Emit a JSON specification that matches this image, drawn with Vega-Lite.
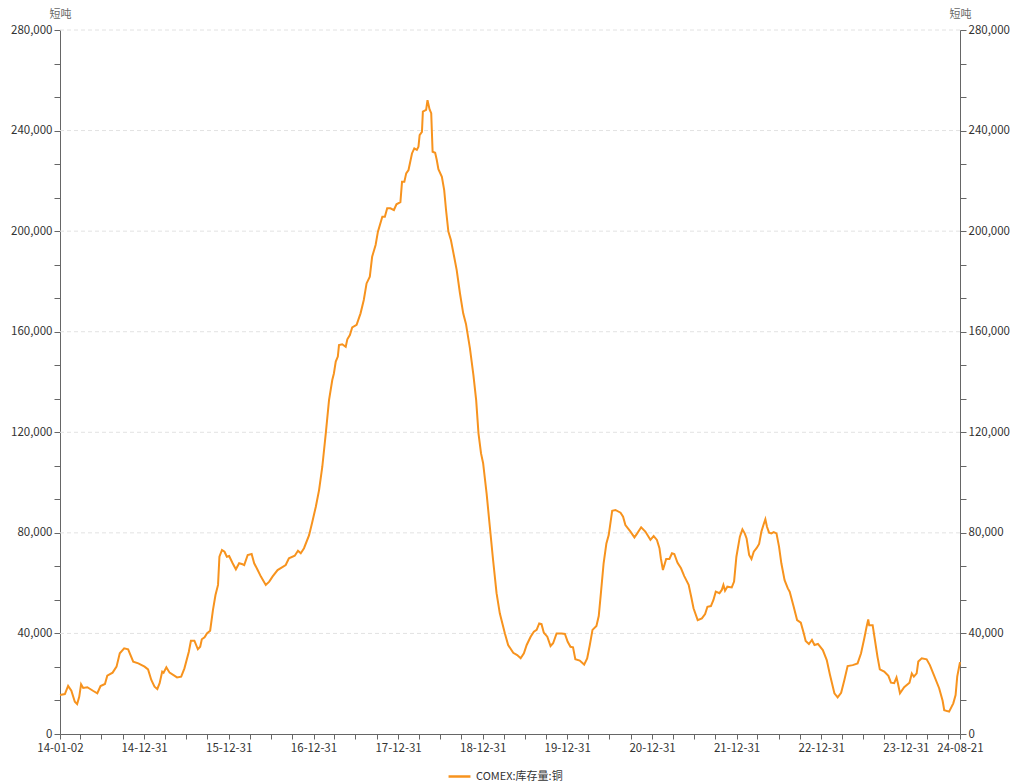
{
  "$schema": "https://vega.github.io/schema/vega-lite/v6.json",
  "width": 900,
  "height": 704,
  "autosize": {"type": "none"},
  "padding": {"left": 60, "top": 30, "right": 55, "bottom": 50},
  "background": "#ffffff",
  "config": {
    "view": {"stroke": null},
    "font": "Noto Sans CJK SC",
    "axis": {
      "labelFont": "Noto Sans CJK SC",
      "labelFontSize": 11.5,
      "labelColor": "#333333",
      "domainColor": "#666666",
      "tickColor": "#666666",
      "titleFont": "Noto Sans CJK SC",
      "titleFontSize": 11,
      "titleFontWeight": "normal",
      "titleColor": "#666666"
    }
  },
  "datasets": {
    "grid": [
      {"v": 40000}, {"v": 80000}, {"v": 120000}, {"v": 160000}, {"v": 200000}, {"v": 240000}, {"v": 280000}
    ],
    "copper": [
      {"d": "2014-01-02", "v": 15500}, {"d": "2014-01-23", "v": 15900}, {"d": "2014-02-06", "v": 19100}, {"d": "2014-02-20", "v": 17200},
      {"d": "2014-03-07", "v": 12800}, {"d": "2014-03-17", "v": 11900}, {"d": "2014-03-26", "v": 14800}, {"d": "2014-04-03", "v": 19800},
      {"d": "2014-04-12", "v": 18300}, {"d": "2014-04-30", "v": 18600}, {"d": "2014-05-26", "v": 17100}, {"d": "2014-06-12", "v": 16200},
      {"d": "2014-06-26", "v": 19100}, {"d": "2014-07-15", "v": 19900}, {"d": "2014-07-25", "v": 23200}, {"d": "2014-08-17", "v": 24400},
      {"d": "2014-09-03", "v": 26800}, {"d": "2014-09-17", "v": 32100}, {"d": "2014-10-06", "v": 34100}, {"d": "2014-10-23", "v": 33700},
      {"d": "2014-11-14", "v": 28800}, {"d": "2014-12-06", "v": 28100}, {"d": "2015-01-02", "v": 26800}, {"d": "2015-01-17", "v": 25700},
      {"d": "2015-01-31", "v": 21500}, {"d": "2015-02-14", "v": 18800}, {"d": "2015-02-26", "v": 17900}, {"d": "2015-03-08", "v": 20200},
      {"d": "2015-03-19", "v": 24800}, {"d": "2015-03-25", "v": 24400}, {"d": "2015-04-06", "v": 26500}, {"d": "2015-04-20", "v": 24400},
      {"d": "2015-05-22", "v": 22500}, {"d": "2015-06-09", "v": 22800}, {"d": "2015-06-23", "v": 26100}, {"d": "2015-07-12", "v": 32700},
      {"d": "2015-07-21", "v": 37100}, {"d": "2015-08-05", "v": 37100}, {"d": "2015-08-20", "v": 33700}, {"d": "2015-08-30", "v": 34700},
      {"d": "2015-09-06", "v": 37700}, {"d": "2015-09-18", "v": 38500}, {"d": "2015-09-28", "v": 40000}, {"d": "2015-10-12", "v": 41100},
      {"d": "2015-10-24", "v": 49300}, {"d": "2015-11-04", "v": 55300}, {"d": "2015-11-15", "v": 59300}, {"d": "2015-11-21", "v": 70500},
      {"d": "2015-12-02", "v": 73200}, {"d": "2015-12-13", "v": 72500}, {"d": "2015-12-23", "v": 70500}, {"d": "2016-01-02", "v": 70800},
      {"d": "2016-01-17", "v": 67900}, {"d": "2016-01-31", "v": 65500}, {"d": "2016-02-14", "v": 67900}, {"d": "2016-02-29", "v": 67500},
      {"d": "2016-03-07", "v": 67200}, {"d": "2016-03-22", "v": 71200}, {"d": "2016-04-08", "v": 71600}, {"d": "2016-04-19", "v": 67900},
      {"d": "2016-05-04", "v": 65200}, {"d": "2016-05-18", "v": 62600}, {"d": "2016-06-08", "v": 59300}, {"d": "2016-06-23", "v": 60600},
      {"d": "2016-07-07", "v": 62600}, {"d": "2016-07-29", "v": 65200}, {"d": "2016-09-02", "v": 67200}, {"d": "2016-09-16", "v": 69900},
      {"d": "2016-10-11", "v": 70900}, {"d": "2016-10-25", "v": 72900}, {"d": "2016-11-06", "v": 71900}, {"d": "2016-11-20", "v": 73900},
      {"d": "2016-12-12", "v": 79100}, {"d": "2016-12-26", "v": 84400}, {"d": "2017-01-10", "v": 90400}, {"d": "2017-01-24", "v": 97000},
      {"d": "2017-02-07", "v": 106300}, {"d": "2017-02-22", "v": 119600}, {"d": "2017-03-08", "v": 132800}, {"d": "2017-03-22", "v": 140800},
      {"d": "2017-03-29", "v": 143400}, {"d": "2017-04-06", "v": 148100}, {"d": "2017-04-15", "v": 150100}, {"d": "2017-04-20", "v": 154700},
      {"d": "2017-05-04", "v": 155000}, {"d": "2017-05-19", "v": 154000}, {"d": "2017-05-26", "v": 157000}, {"d": "2017-06-06", "v": 158700},
      {"d": "2017-06-16", "v": 161700}, {"d": "2017-07-05", "v": 162700}, {"d": "2017-07-22", "v": 167300}, {"d": "2017-08-05", "v": 172600},
      {"d": "2017-08-17", "v": 179200}, {"d": "2017-08-31", "v": 181900}, {"d": "2017-09-10", "v": 189800}, {"d": "2017-09-25", "v": 194500},
      {"d": "2017-10-05", "v": 199800}, {"d": "2017-10-24", "v": 205700}, {"d": "2017-11-04", "v": 205700}, {"d": "2017-11-14", "v": 209100},
      {"d": "2017-11-28", "v": 209100}, {"d": "2017-12-13", "v": 208400}, {"d": "2017-12-24", "v": 210700}, {"d": "2018-01-10", "v": 211500},
      {"d": "2018-01-17", "v": 219600}, {"d": "2018-01-27", "v": 219600}, {"d": "2018-02-04", "v": 223000}, {"d": "2018-02-14", "v": 224300},
      {"d": "2018-03-01", "v": 230900}, {"d": "2018-03-11", "v": 232900}, {"d": "2018-03-22", "v": 232300}, {"d": "2018-03-29", "v": 233600},
      {"d": "2018-04-03", "v": 238200}, {"d": "2018-04-13", "v": 239500}, {"d": "2018-04-17", "v": 247500}, {"d": "2018-05-01", "v": 248200},
      {"d": "2018-05-07", "v": 252100}, {"d": "2018-05-16", "v": 248400}, {"d": "2018-05-23", "v": 246900}, {"d": "2018-05-29", "v": 231600},
      {"d": "2018-06-09", "v": 231200}, {"d": "2018-06-16", "v": 228300}, {"d": "2018-06-23", "v": 224600}, {"d": "2018-07-08", "v": 221600},
      {"d": "2018-07-18", "v": 216300}, {"d": "2018-07-26", "v": 208400}, {"d": "2018-08-05", "v": 199800}, {"d": "2018-08-16", "v": 196500},
      {"d": "2018-08-30", "v": 189800}, {"d": "2018-09-10", "v": 184500}, {"d": "2018-09-24", "v": 175300}, {"d": "2018-10-08", "v": 167300},
      {"d": "2018-10-20", "v": 163100}, {"d": "2018-11-06", "v": 153500}, {"d": "2018-11-21", "v": 142800}, {"d": "2018-12-03", "v": 132800},
      {"d": "2018-12-13", "v": 119600}, {"d": "2018-12-24", "v": 111600}, {"d": "2019-01-02", "v": 107700}, {"d": "2019-01-17", "v": 95700},
      {"d": "2019-01-31", "v": 82400}, {"d": "2019-02-14", "v": 69200}, {"d": "2019-03-01", "v": 56000}, {"d": "2019-03-15", "v": 48000},
      {"d": "2019-04-06", "v": 40000}, {"d": "2019-04-20", "v": 35400}, {"d": "2019-05-12", "v": 32300}, {"d": "2019-05-29", "v": 31400},
      {"d": "2019-06-13", "v": 30100}, {"d": "2019-06-27", "v": 32100}, {"d": "2019-07-09", "v": 35400}, {"d": "2019-07-26", "v": 38700},
      {"d": "2019-08-09", "v": 40700}, {"d": "2019-08-21", "v": 41400}, {"d": "2019-09-01", "v": 44000}, {"d": "2019-09-11", "v": 43700},
      {"d": "2019-09-21", "v": 40300}, {"d": "2019-10-06", "v": 38700}, {"d": "2019-10-20", "v": 35000}, {"d": "2019-10-31", "v": 36100},
      {"d": "2019-11-15", "v": 40000}, {"d": "2019-12-07", "v": 40000}, {"d": "2019-12-21", "v": 39800}, {"d": "2020-01-02", "v": 36700},
      {"d": "2020-01-14", "v": 34700}, {"d": "2020-01-25", "v": 34500}, {"d": "2020-02-04", "v": 29700}, {"d": "2020-02-23", "v": 29200},
      {"d": "2020-03-13", "v": 27600}, {"d": "2020-03-26", "v": 30100}, {"d": "2020-04-06", "v": 35200}, {"d": "2020-04-18", "v": 41400},
      {"d": "2020-05-05", "v": 43000}, {"d": "2020-05-15", "v": 46900}, {"d": "2020-05-25", "v": 56700}, {"d": "2020-06-05", "v": 67900},
      {"d": "2020-06-17", "v": 75800}, {"d": "2020-06-27", "v": 79100}, {"d": "2020-07-12", "v": 88800}, {"d": "2020-07-26", "v": 89100},
      {"d": "2020-08-17", "v": 88000}, {"d": "2020-08-28", "v": 86400}, {"d": "2020-09-07", "v": 83100}, {"d": "2020-09-29", "v": 80500},
      {"d": "2020-10-16", "v": 78200}, {"d": "2020-10-28", "v": 79800}, {"d": "2020-11-14", "v": 82200}, {"d": "2020-12-02", "v": 80500},
      {"d": "2020-12-24", "v": 77200}, {"d": "2021-01-07", "v": 78700}, {"d": "2021-01-21", "v": 77200}, {"d": "2021-02-01", "v": 73900},
      {"d": "2021-02-07", "v": 69900}, {"d": "2021-02-16", "v": 65200}, {"d": "2021-03-02", "v": 69600}, {"d": "2021-03-16", "v": 69600},
      {"d": "2021-03-27", "v": 71900}, {"d": "2021-04-06", "v": 71600}, {"d": "2021-04-20", "v": 68100}, {"d": "2021-05-05", "v": 65900},
      {"d": "2021-05-19", "v": 62800}, {"d": "2021-06-07", "v": 59300}, {"d": "2021-06-18", "v": 54600}, {"d": "2021-06-28", "v": 50000},
      {"d": "2021-07-16", "v": 45300}, {"d": "2021-08-03", "v": 46000}, {"d": "2021-08-17", "v": 47700}, {"d": "2021-08-27", "v": 50600},
      {"d": "2021-09-11", "v": 50900}, {"d": "2021-09-22", "v": 53300}, {"d": "2021-10-02", "v": 56600}, {"d": "2021-10-18", "v": 56000},
      {"d": "2021-10-28", "v": 57300}, {"d": "2021-11-04", "v": 59300}, {"d": "2021-11-11", "v": 57000}, {"d": "2021-11-21", "v": 58600},
      {"d": "2021-12-10", "v": 58300}, {"d": "2021-12-20", "v": 60600}, {"d": "2021-12-30", "v": 70500}, {"d": "2022-01-14", "v": 78500},
      {"d": "2022-01-25", "v": 81400}, {"d": "2022-02-04", "v": 79800}, {"d": "2022-02-12", "v": 77800}, {"d": "2022-02-23", "v": 71200},
      {"d": "2022-03-05", "v": 69600}, {"d": "2022-03-15", "v": 72500}, {"d": "2022-03-27", "v": 73900}, {"d": "2022-04-07", "v": 75600},
      {"d": "2022-04-17", "v": 80500}, {"d": "2022-04-27", "v": 83500}, {"d": "2022-05-04", "v": 85400}, {"d": "2022-05-11", "v": 82400},
      {"d": "2022-05-20", "v": 80100}, {"d": "2022-05-30", "v": 79800}, {"d": "2022-06-09", "v": 80300}, {"d": "2022-06-21", "v": 79800},
      {"d": "2022-07-02", "v": 74500}, {"d": "2022-07-12", "v": 67900}, {"d": "2022-07-26", "v": 61200}, {"d": "2022-08-09", "v": 57900},
      {"d": "2022-08-17", "v": 56600}, {"d": "2022-09-03", "v": 50700}, {"d": "2022-09-18", "v": 45300}, {"d": "2022-10-04", "v": 44300},
      {"d": "2022-10-17", "v": 40000}, {"d": "2022-10-25", "v": 37000}, {"d": "2022-11-08", "v": 35800}, {"d": "2022-11-21", "v": 37400},
      {"d": "2022-12-02", "v": 35400}, {"d": "2022-12-17", "v": 35800}, {"d": "2023-01-07", "v": 33400}, {"d": "2023-01-24", "v": 29400},
      {"d": "2023-02-07", "v": 23500}, {"d": "2023-02-26", "v": 16200}, {"d": "2023-03-12", "v": 14600}, {"d": "2023-03-27", "v": 16400},
      {"d": "2023-04-10", "v": 21500}, {"d": "2023-04-24", "v": 27000}, {"d": "2023-05-16", "v": 27400}, {"d": "2023-06-06", "v": 28100},
      {"d": "2023-06-21", "v": 32100}, {"d": "2023-07-05", "v": 38100}, {"d": "2023-07-15", "v": 42700}, {"d": "2023-07-22", "v": 45600},
      {"d": "2023-07-26", "v": 43300}, {"d": "2023-08-10", "v": 43300}, {"d": "2023-08-21", "v": 36700}, {"d": "2023-08-31", "v": 30700},
      {"d": "2023-09-10", "v": 25700}, {"d": "2023-09-29", "v": 24800}, {"d": "2023-10-17", "v": 23100}, {"d": "2023-10-28", "v": 20400},
      {"d": "2023-11-11", "v": 20200}, {"d": "2023-11-21", "v": 22500}, {"d": "2023-11-27", "v": 20200}, {"d": "2023-12-06", "v": 16200},
      {"d": "2023-12-24", "v": 18600}, {"d": "2024-01-16", "v": 20400}, {"d": "2024-01-26", "v": 24100}, {"d": "2024-02-04", "v": 22800},
      {"d": "2024-02-16", "v": 24100}, {"d": "2024-02-23", "v": 28800}, {"d": "2024-03-09", "v": 30100}, {"d": "2024-03-30", "v": 29700},
      {"d": "2024-04-13", "v": 27400}, {"d": "2024-04-30", "v": 23500}, {"d": "2024-05-23", "v": 18200}, {"d": "2024-06-07", "v": 13200},
      {"d": "2024-06-14", "v": 9500}, {"d": "2024-07-05", "v": 8900}, {"d": "2024-07-23", "v": 12200}, {"d": "2024-08-02", "v": 15500},
      {"d": "2024-08-09", "v": 22800}, {"d": "2024-08-21", "v": 28600}
    ]
  },
  "resolve": {"scale": {"y": "independent"}, "axis": {"y": "independent"}},
  "layer": [
    {
      "data": {"name": "grid"},
      "mark": {"type": "rule", "color": "#e2e2e2", "strokeWidth": 1, "strokeDash": [4, 3]},
      "encoding": {
        "y": {
          "field": "v",
          "type": "quantitative",
          "scale": {"domain": [0, 280000], "nice": false, "zero": true},
          "axis": {
            "orient": "right",
            "title": "短吨",
            "titleAngle": 0,
            "titleX": 0,
            "titleY": -16,
            "titleAlign": "center",
            "titleBaseline": "middle",
            "grid": false,
            "tickSize": 6,
            "labelPadding": 2,
            "values": [0, 13333.33, 26666.67, 40000, 53333.33, 66666.67, 80000, 93333.33, 106666.67, 120000, 133333.33, 146666.67, 160000, 173333.33, 186666.67, 200000, 213333.33, 226666.67, 240000, 253333.33, 266666.67, 280000],
            "labelExpr": "datum.value % 40000 == 0 ? format(datum.value, ',') : ''",
            "labelOverlap": false
          }
        }
      }
    },
    {
      "data": {"name": "copper"},
      "mark": {"type": "line", "strokeWidth": 2, "interpolate": "linear"},
      "encoding": {
        "x": {
          "field": "d",
          "type": "temporal",
          "scale": {"type": "utc", "domain": [{"year": 2014, "month": 1, "date": 2, "utc": true}, {"year": 2024, "month": 8, "date": 21, "utc": true}], "nice": false},
          "axis": {
            "title": null,
            "grid": false,
            "tickSize": 5,
            "labelPadding": 3,
            "labelOverlap": false,
            "labelFlush": false,
            "labelBound": false,
            "values": [
              {"year": 2014, "month": 1, "date": 2, "utc": true},
              {"year": 2014, "month": 3, "date": 31, "utc": true}, {"year": 2014, "month": 6, "date": 30, "utc": true}, {"year": 2014, "month": 9, "date": 30, "utc": true}, {"year": 2014, "month": 12, "date": 31, "utc": true},
              {"year": 2015, "month": 3, "date": 31, "utc": true}, {"year": 2015, "month": 6, "date": 30, "utc": true}, {"year": 2015, "month": 9, "date": 30, "utc": true}, {"year": 2015, "month": 12, "date": 31, "utc": true},
              {"year": 2016, "month": 3, "date": 31, "utc": true}, {"year": 2016, "month": 6, "date": 30, "utc": true}, {"year": 2016, "month": 9, "date": 30, "utc": true}, {"year": 2016, "month": 12, "date": 31, "utc": true},
              {"year": 2017, "month": 3, "date": 31, "utc": true}, {"year": 2017, "month": 6, "date": 30, "utc": true}, {"year": 2017, "month": 9, "date": 30, "utc": true}, {"year": 2017, "month": 12, "date": 31, "utc": true},
              {"year": 2018, "month": 3, "date": 31, "utc": true}, {"year": 2018, "month": 6, "date": 30, "utc": true}, {"year": 2018, "month": 9, "date": 30, "utc": true}, {"year": 2018, "month": 12, "date": 31, "utc": true},
              {"year": 2019, "month": 3, "date": 31, "utc": true}, {"year": 2019, "month": 6, "date": 30, "utc": true}, {"year": 2019, "month": 9, "date": 30, "utc": true}, {"year": 2019, "month": 12, "date": 31, "utc": true},
              {"year": 2020, "month": 3, "date": 31, "utc": true}, {"year": 2020, "month": 6, "date": 30, "utc": true}, {"year": 2020, "month": 9, "date": 30, "utc": true}, {"year": 2020, "month": 12, "date": 31, "utc": true},
              {"year": 2021, "month": 3, "date": 31, "utc": true}, {"year": 2021, "month": 6, "date": 30, "utc": true}, {"year": 2021, "month": 9, "date": 30, "utc": true}, {"year": 2021, "month": 12, "date": 31, "utc": true},
              {"year": 2022, "month": 3, "date": 31, "utc": true}, {"year": 2022, "month": 6, "date": 30, "utc": true}, {"year": 2022, "month": 9, "date": 30, "utc": true}, {"year": 2022, "month": 12, "date": 31, "utc": true},
              {"year": 2023, "month": 3, "date": 31, "utc": true}, {"year": 2023, "month": 6, "date": 30, "utc": true}, {"year": 2023, "month": 9, "date": 30, "utc": true}, {"year": 2023, "month": 12, "date": 31, "utc": true},
              {"year": 2024, "month": 3, "date": 31, "utc": true}, {"year": 2024, "month": 6, "date": 30, "utc": true}, {"year": 2024, "month": 8, "date": 21, "utc": true}
            ],
            "labelExpr": "indexof(['03-31','06-30','09-30'], utcFormat(datum.value, '%m-%d')) >= 0 ? '' : utcFormat(datum.value, '%y-%m-%d')"
          }
        },
        "y": {
          "field": "v",
          "type": "quantitative",
          "scale": {"domain": [0, 280000], "nice": false, "zero": true},
          "axis": {
            "orient": "left",
            "title": "短吨",
            "titleAngle": 0,
            "titleX": 0,
            "titleY": -16,
            "titleAlign": "center",
            "titleBaseline": "middle",
            "grid": false,
            "tickSize": 6,
            "labelPadding": 2,
            "values": [0, 13333.33, 26666.67, 40000, 53333.33, 66666.67, 80000, 93333.33, 106666.67, 120000, 133333.33, 146666.67, 160000, 173333.33, 186666.67, 200000, 213333.33, 226666.67, 240000, 253333.33, 266666.67, 280000],
            "labelExpr": "datum.value % 40000 == 0 ? format(datum.value, ',') : ''",
            "labelOverlap": false
          }
        },
        "color": {
          "datum": "COMEX:库存量:铜",
          "type": "nominal",
          "scale": {"range": ["#f7931e"]},
          "legend": {
            "title": null,
            "orient": "none",
            "legendX": 387,
            "legendY": 734,
            "direction": "horizontal",
            "symbolType": "stroke",
            "symbolSize": 480,
            "symbolStrokeWidth": 2.5,
            "labelFont": "Noto Sans CJK SC",
            "labelFontSize": 11,
            "labelColor": "#333333",
            "padding": 0
          }
        }
      }
    }
  ]
}
